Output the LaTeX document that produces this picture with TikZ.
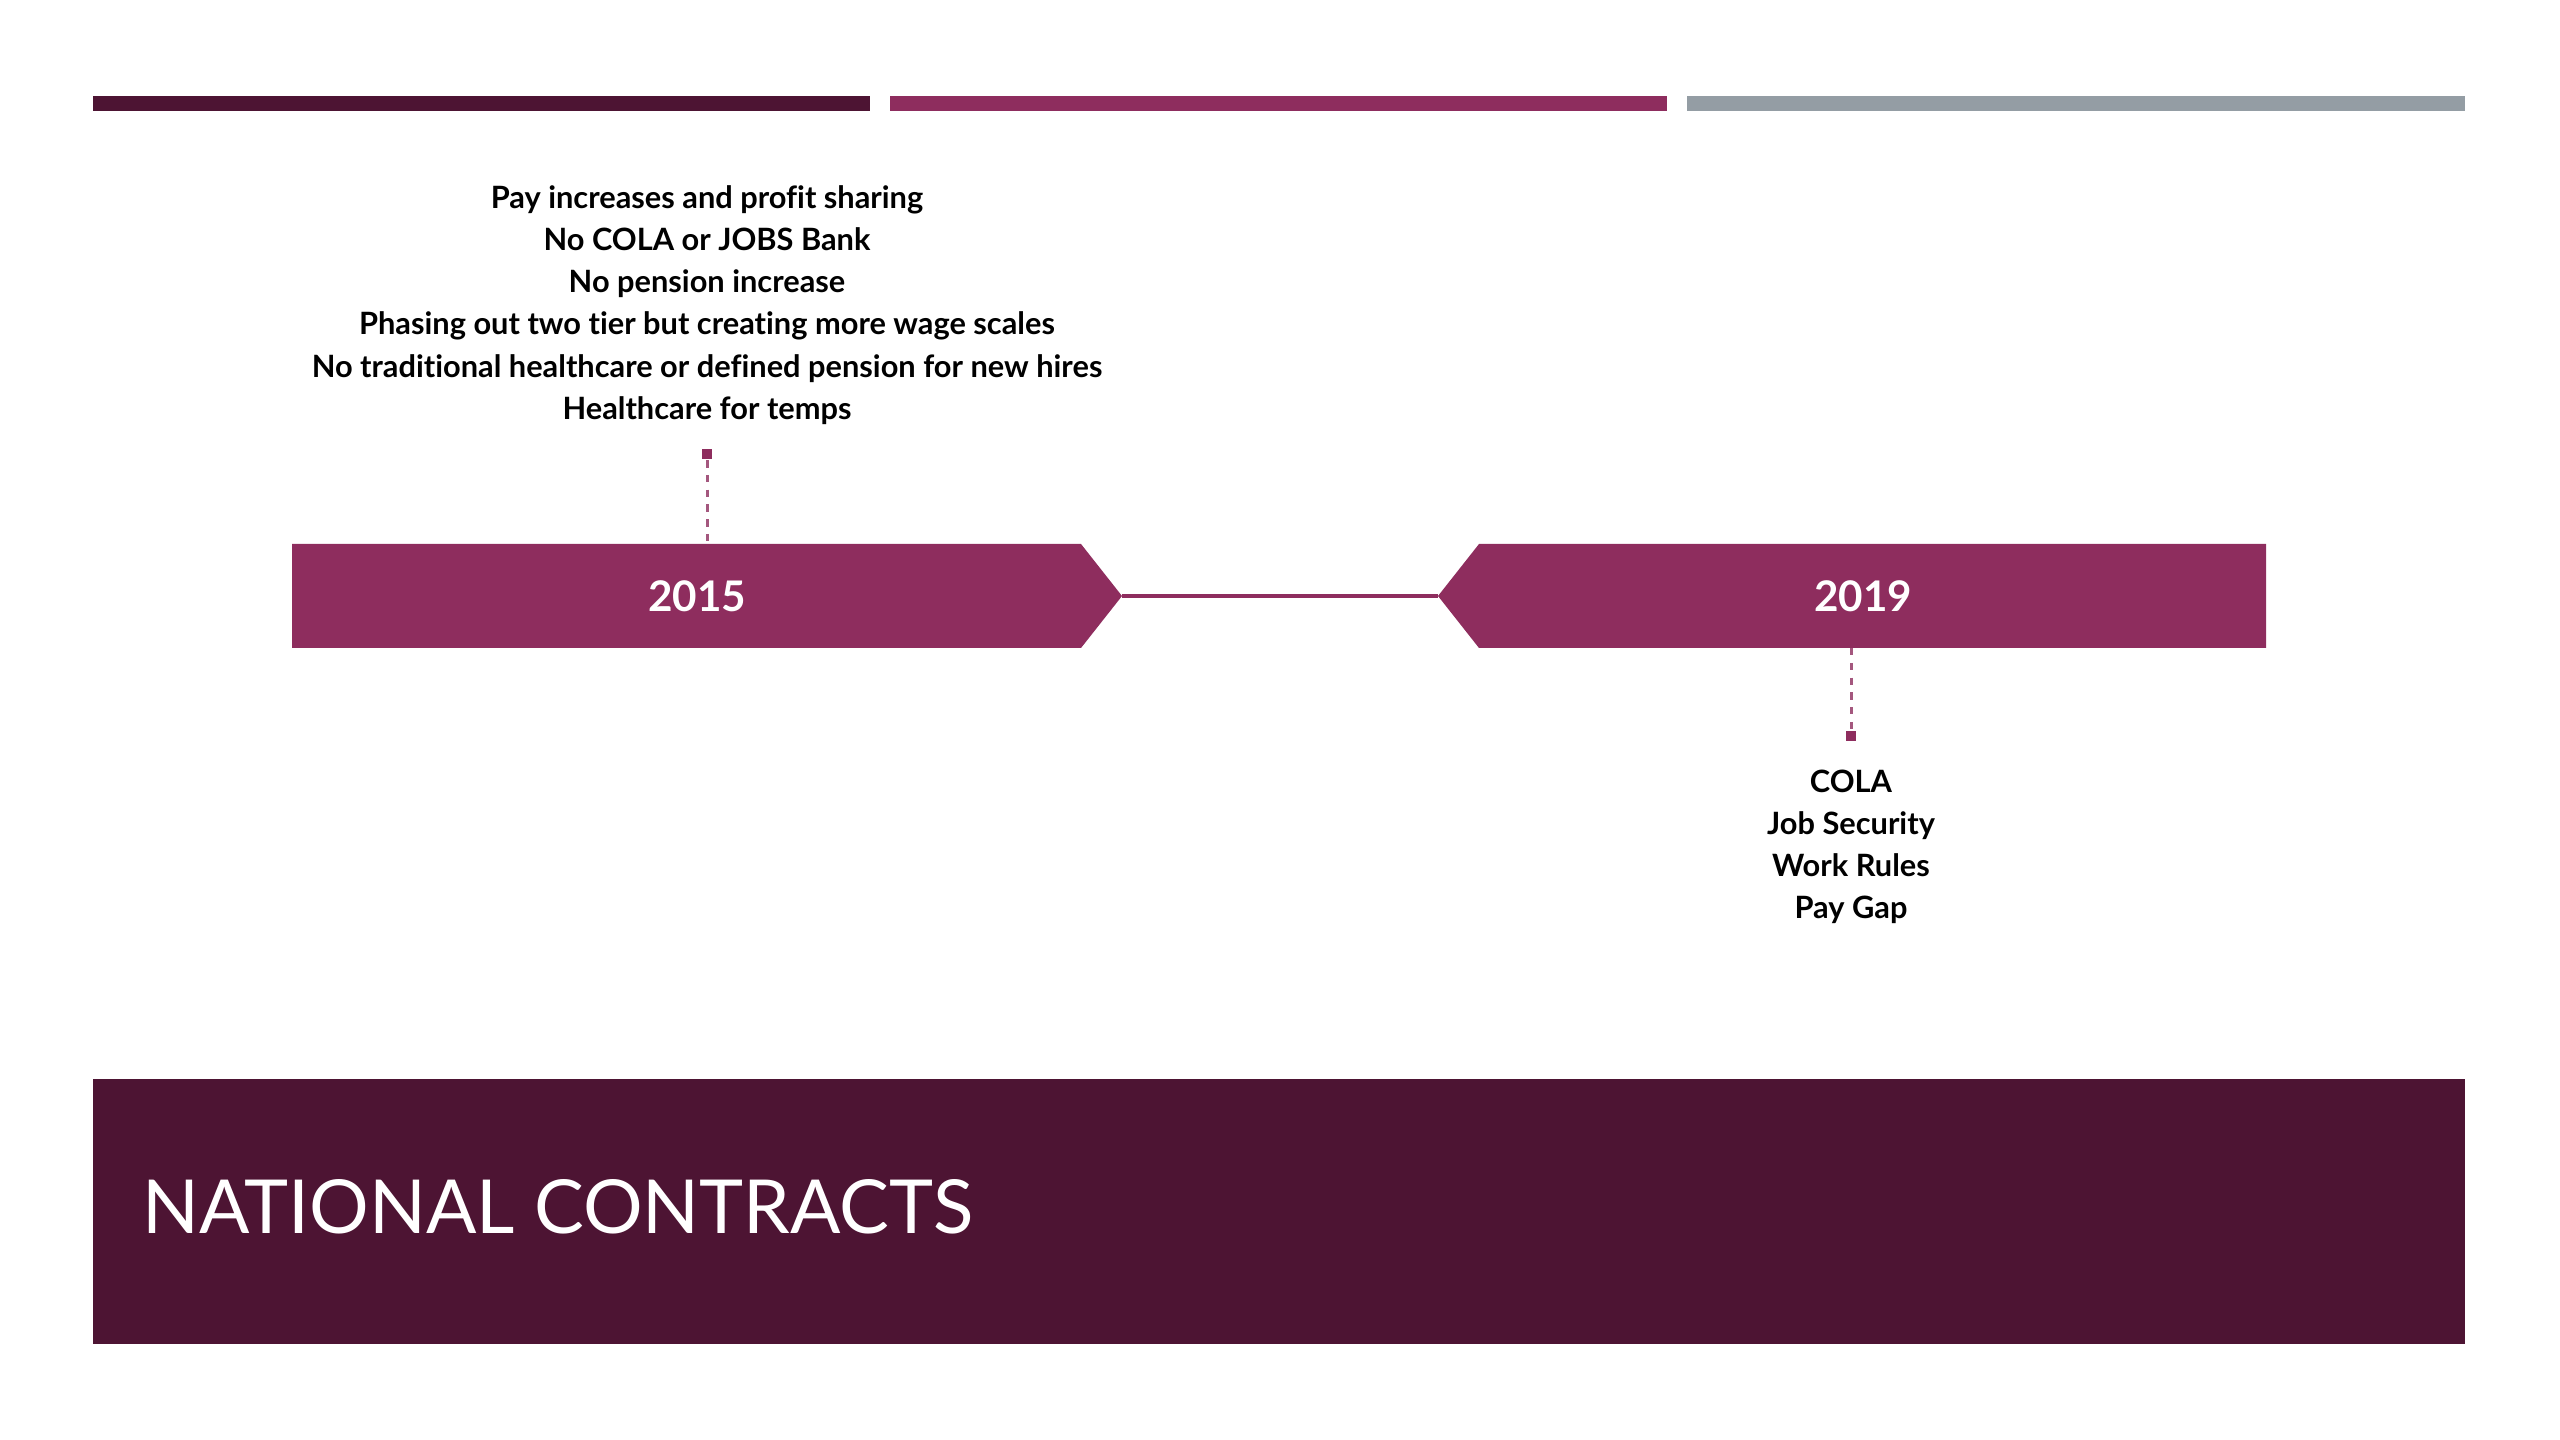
\documentclass[tikz,border=0pt]{standalone}
\usepackage{fontspec}
\setmainfont[Ligatures={NoCommon,NoContextual}]{Lato}
\definecolor{plum}{RGB}{77,20,51}
\definecolor{berry}{RGB}{142,45,94}
\definecolor{steel}{RGB}{148,157,164}
\begin{document}
\begin{tikzpicture}[x=0.01cm,y=-0.01cm,line join=round,
	dashline/.style={berry!80,line width=0.85pt,dash pattern=on 2.1pt off 2.1pt},
	marker/.style={fill=berry,inner sep=0pt,minimum size=3.1pt},
	items/.style={align=center,font=\bfseries\fontsize{8.75}{12}\selectfont},
	year/.style={text=white,font=\bfseries\fontsize{12}{14}\selectfont}]
	\useasboundingbox (0,0) rectangle (2560,1440);
	\def\ytop{544} \def\ybot{648} \def\ymid{596}
	% top strips
	\fill[plum] (93,96) rectangle (870,111);
	\fill[berry] (890,96) rectangle (1667,111);
	\fill[steel] (1687,96) rectangle (2465,111);
	% timeline
	\fill[berry] (292,\ytop)--(1081,\ytop)--(1122,\ymid)--(1081,\ybot)--(292,\ybot)--cycle;
	\fill[berry] (2266,\ytop)--(1479,\ytop)--(1438,\ymid)--(1479,\ybot)--(2266,\ybot)--cycle;
	\coordinate (tip15) at (1122,\ymid);
	\coordinate (tip19) at (1438,\ymid);
	\draw[berry,line width=1.1pt] (tip15)--(tip19);
	\node[year] (y15) at (697,\ymid) {2015};
	\node[year] (y19) at (1863,\ymid) {2019};
	% 2015
	\node[marker] (sq15) at (707,454) {};
	\coordinate (b15) at (707,\ytop);
	\draw[dashline] (sq15)--(b15);
	\node[items] (list15) at (707,305) {Pay increases and profit sharing\\
		No COLA or JOBS Bank\\
		No pension increase\\
		Phasing out two tier but creating more wage scales\\
		No traditional healthcare or defined pension for new hires\\
		Healthcare for temps};
	% 2019
	\node[marker] (sq19) at (1851,736) {};
	\coordinate (b19) at (1851,\ybot);
	\draw[dashline] (b19)--(sq19);
	\node[items] (list19) at (1851,847) {COLA\\ Job Security\\ Work Rules\\ Pay Gap};
	% banner
	\fill[plum] (93,1079) rectangle (2465,1344);
	\node[anchor=base west,inner sep=0pt,text=white,font=\fontsize{21.2}{25}\selectfont] (title) at (142,1233) {NATIONAL CONTRACTS};
\end{tikzpicture}
\end{document}
